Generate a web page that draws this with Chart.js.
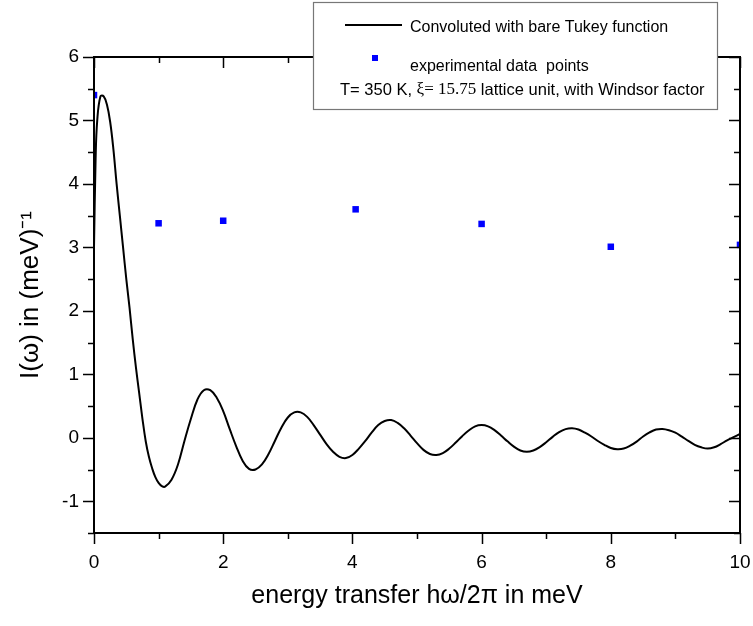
<!DOCTYPE html>
<html>
<head>
<meta charset="utf-8">
<script src="https://cdn.jsdelivr.net/npm/chart.js@4.4.0/dist/chart.umd.min.js"></script>
<style>
  html, body { margin: 0; padding: 0; background: #fff; }
</style>
</head>
<body>
<canvas id="grafico" width="753" height="626"></canvas>
<script>
// curva convolucionada
const curvaX = [0, 0.025, 0.05, 0.1, 0.15, 0.2, 0.25, 0.3, 0.35, 0.4, 0.45, 0.5, 0.55, 0.6, 0.65, 0.7,
  0.75, 0.8, 0.85, 0.9, 0.95, 1.0, 1.05, 1.1, 1.2, 1.3, 1.4, 1.5, 1.6, 1.7, 1.8, 1.9, 2.0, 2.1, 2.2,
  2.3, 2.4, 2.5, 2.6, 2.7, 2.8, 2.9, 3.0, 3.1, 3.2, 3.3, 3.4, 3.5, 3.6, 3.7, 3.8, 3.9, 4.0, 4.1, 4.2,
  4.3, 4.4, 4.5, 4.6, 4.7, 4.8, 4.9, 5.0, 5.1, 5.2, 5.3, 5.4, 5.5, 5.6, 5.7, 5.8, 5.9, 6.0, 6.1, 6.2,
  6.3, 6.4, 6.5, 6.6, 6.7, 6.8, 6.9, 7.0, 7.1, 7.2, 7.3, 7.4, 7.5, 7.6, 7.7, 7.8, 7.9, 8.0, 8.1, 8.2,
  8.3, 8.4, 8.5, 8.6, 8.7, 8.8, 8.9, 9.0, 9.1, 9.2, 9.3, 9.4, 9.5, 9.6, 9.7, 9.8, 9.9, 10.0];
const curvaY = [3.0, 4.4, 5.0, 5.38, 5.38, 5.25, 4.98, 4.55, 4.0, 3.5, 3.0, 2.5, 2.05, 1.55, 1.1, 0.7,
  0.3, -0.05, -0.3, -0.48, -0.62, -0.71, -0.76, -0.77, -0.66, -0.42, -0.05, 0.3, 0.6, 0.75, 0.75, 0.63,
  0.42, 0.14, -0.13, -0.36, -0.49, -0.5, -0.42, -0.26, -0.05, 0.16, 0.32, 0.4, 0.4, 0.33, 0.2, 0.05,
  -0.1, -0.22, -0.3, -0.32, -0.27, -0.17, -0.05, 0.085, 0.2, 0.265, 0.28, 0.235, 0.15, 0.035, -0.085,
  -0.19, -0.255, -0.27, -0.24, -0.17, -0.075, 0.026, 0.115, 0.18, 0.2, 0.18, 0.12, 0.036, -0.056, -0.14,
  -0.2, -0.22, -0.2, -0.146, -0.07, 0.015, 0.09, 0.137, 0.15, 0.13, 0.08, 0.02, -0.05, -0.11, -0.16,
  -0.18, -0.17, -0.125, -0.06, 0.02, 0.085, 0.13, 0.14, 0.12, 0.08, 0.018, -0.048, -0.11, -0.15, -0.17,
  -0.15, -0.1, -0.04, 0.01, 0.06];

// puntos experimentales
const expX = [0, 1, 2, 4.05, 6, 8, 10];
const expY = [5.4, 3.38, 3.42, 3.6, 3.37, 3.01, 3.04];

const etiquetaCurva = 'Convoluted with bare Tukey function';
const etiquetaExp = 'experimental data  points';
const tituloX = 'energy transfer h\u03c9/2\u03c0 in meV';
const tituloY = 'I(\u03c9) in (meV)\u207b\u00b9';

const fuente = '"Liberation Sans", Arial, sans-serif';

// marco con ticks en los cuatro lados
const marco = {
  id: 'marco',
  afterDraw(chart) {
    const c = chart.ctx;
    const a = chart.chartArea;
    const sx = chart.scales.x, sy = chart.scales.y;
    c.save();
    c.strokeStyle = '#000';
    c.lineWidth = 2;
    c.strokeRect(a.left, a.top, a.right - a.left, a.bottom - a.top);
    c.lineWidth = 1.5;
    c.beginPath();
    for (let v = 0; v <= 10; v++) {
      const px = Math.round(sx.getPixelForValue(v)) + 0.5;
      const len = v % 2 === 0 ? 11 : 6;
      c.moveTo(px, a.bottom); c.lineTo(px, a.bottom + len);
      c.moveTo(px, a.top); c.lineTo(px, a.top + len);
    }
    for (let v = -1.5; v <= 6; v += 0.5) {
      const py = Math.round(sy.getPixelForValue(v)) + 0.5;
      const len = Number.isInteger(v) ? 11 : 6;
      c.moveTo(a.left, py); c.lineTo(a.left - len, py);
      c.moveTo(a.right, py); c.lineTo(a.right - len, py);
    }
    c.stroke();

    // leyenda
    c.fillStyle = '#fff';
    c.fillRect(313, 2, 404, 107);
    c.strokeStyle = '#777';
    c.lineWidth = 1.2;
    c.strokeRect(313.5, 2.5, 404, 107);
    c.strokeStyle = '#000';
    c.lineWidth = 2;
    c.beginPath(); c.moveTo(345, 25); c.lineTo(402, 25); c.stroke();
    c.fillStyle = '#0000ff';
    c.fillRect(372, 55, 6, 6);
    c.fillStyle = '#000';
    c.textBaseline = 'middle';
    c.textAlign = 'left';
    c.font = '16px ' + fuente;
    c.fillText(etiquetaCurva, 410, 28);
    c.fillText(etiquetaExp, 410, 67);
    let x = 340;
    const partes = [
      ['T= 350 K, ', '16.5px ' + fuente],
      ['\u03be= 15.75', '17px "Liberation Serif", "Times New Roman", serif'],
      [' lattice unit, with Windsor factor', '16.5px ' + fuente]
    ];
    for (const [t, f] of partes) {
      c.font = f;
      c.fillText(t, x, 90);
      x += c.measureText(t).width;
    }
    c.restore();
  }
};

new Chart(document.getElementById('grafico'), {
  type: 'line',
  data: {
    datasets: [{
      label: etiquetaCurva,
      data: curvaX.map((v, i) => ({ x: v, y: curvaY[i] })),
      borderColor: '#000',
      borderWidth: 2,
      pointRadius: 0,
      fill: false,
      tension: 0.4,
      clip: 0
    }, {
      label: etiquetaExp,
      data: expX.map((v, i) => ({ x: v, y: expY[i] })),
      showLine: false,
      pointStyle: 'rect',
      pointRadius: 4.6,
      pointBackgroundColor: '#0000ff',
      pointBorderWidth: 0,
      clip: 0
    }]
  },
  options: {
    responsive: false,
    animation: false,
    devicePixelRatio: 1,
    layout: { padding: { left: 0, right: 13, top: 57, bottom: 0 } },
    plugins: { legend: { display: false }, tooltip: { enabled: false } },
    scales: {
      x: {
        type: 'linear',
        min: 0,
        max: 10,
        afterFit: s => { s.height = 93; s.paddingLeft = 0; s.paddingRight = 0; },
        grid: { display: false, drawTicks: false },
        border: { display: false },
        ticks: {
          stepSize: 1,
          padding: 18,
          color: '#000',
          font: { size: 19, family: fuente },
          maxRotation: 0,
          callback: v => (v % 2 === 0 ? v : '')
        },
        title: {
          display: true,
          text: tituloX,
          color: '#000',
          font: { size: 25, family: fuente },
          padding: { bottom: 15 }
        }
      },
      y: {
        type: 'linear',
        min: -1.5,
        max: 6,
        afterFit: s => { s.width = 94; s.paddingTop = 0; s.paddingBottom = 0; },
        grid: { display: false, drawTicks: false },
        border: { display: false },
        ticks: {
          stepSize: 0.5,
          padding: 15,
          color: '#000',
          font: { size: 19, family: fuente },
          callback: v => (Number.isInteger(v) ? v : '')
        },
        title: {
          display: true,
          text: tituloY,
          color: '#000',
          font: { size: 26, family: fuente },
          padding: { top: 15 }
        }
      }
    }
  },
  plugins: [marco]
});
</script>
</body>
</html>
